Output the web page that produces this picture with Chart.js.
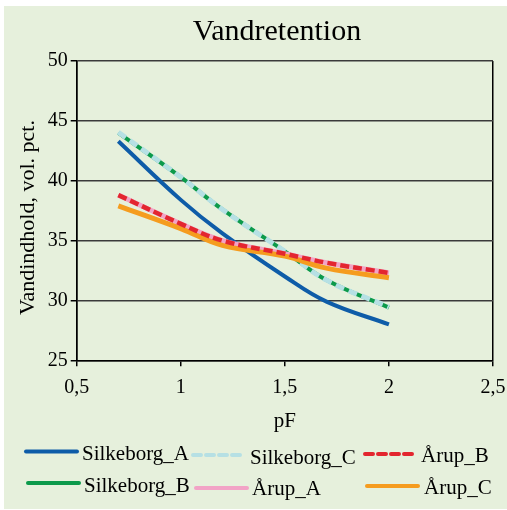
<!DOCTYPE html>
<html>
<head>
<meta charset="utf-8">
<script src="https://cdn.jsdelivr.net/npm/chart.js@4.4.0/dist/chart.umd.min.js"></script>
<style>
  html, body { margin: 0; padding: 0; background: #ffffff; }
  #frame { position: absolute; left: 4px; top: 6px; width: 503px; height: 503px; background: #e6f0dc; }
  #wrap { position: absolute; left: 0; top: 0; width: 507px; height: 510px; }
</style>
</head>
<body>
<div id="frame"></div>
<div id="wrap"><canvas id="c" width="507" height="510"></canvas></div>
<script>
// pF values and water content (vol. pct.) per soil sample
const pF = [0.7, 1.0, 1.2, 1.5, 1.7, 2.0];
const silkeborgA = [43.3, 38.4, 35.6, 32.0, 29.9, 28.0];
const silkeborgB = [44.0, 40.3, 37.6, 34.1, 31.7, 29.4];
const silkeborgC = [44.05, 40.3, 37.6, 34.1, 31.7, 29.45];
const aarupA = [38.8, 36.4, 35.0, 33.9, 33.15, 32.3];
const aarupB = [38.8, 36.4, 35.0, 33.9, 33.15, 32.3];
const aarupC = [37.9, 36.0, 34.6, 33.7, 32.7, 31.9];

const seriesNames = ['Silkeborg_A', 'Silkeborg_B', 'Silkeborg_C', 'Årup_A', 'Årup_B', 'Årup_C'];
const seriesValues = [silkeborgA, silkeborgB, silkeborgC, aarupA, aarupB, aarupC];

const xTicks = [0.5, 1, 1.5, 2, 2.5];
const yTicks = [25, 30, 35, 40, 45, 50];

const chartTitle = 'Vandretention';
const xTitle = 'pF';
const yTitle = 'Vandindhold, vol. pct.';

// line styles: colour, width, dash, stacking (lower order = drawn on top)
const styles = [
  { color: '#0e5ca8', width: 4,   dash: [],     order: 6 },
  { color: '#0c9a4b', width: 4,   dash: [],     order: 5 },
  { color: '#b6e0e4', width: 5,   dash: [9, 5], order: 4 },
  { color: '#f2a3c6', width: 5,   dash: [],     order: 3 },
  { color: '#e3262f', width: 4.5, dash: [9, 4], order: 1 },
  { color: '#f59c1f', width: 5,   dash: [],     order: 2 }
];

const serif = "'Liberation Serif', 'Times New Roman', serif";

const datasets = seriesNames.map((name, i) => ({
  label: name,
  data: pF.map((x, j) => ({ x: x, y: seriesValues[i][j] })),
  borderColor: styles[i].color,
  backgroundColor: styles[i].color,
  borderWidth: styles[i].width,
  borderDash: styles[i].dash,
  borderCapStyle: 'butt',
  order: styles[i].order,
  pointRadius: 0,
  pointHoverRadius: 0,
  tension: 0.4,
  fill: false
}));

// legend laid out in two rows, three columns
const legendSlots = [
  { ds: 0, x0: 26,  x1: 77,  ly: 451.5, tx: 82,  ty: 460 },
  { ds: 2, x0: 193, x1: 241, ly: 455,   tx: 250, ty: 464 },
  { ds: 4, x0: 365, x1: 412, ly: 454,   tx: 421, ty: 462 },
  { ds: 1, x0: 28,  x1: 79,  ly: 483,   tx: 84,  ty: 492 },
  { ds: 3, x0: 196, x1: 247, ly: 488,   tx: 252, ty: 495 },
  { ds: 5, x0: 367, x1: 418, ly: 486,   tx: 424, ty: 494 }
];

// chart title, y-axis title and the legend
const textPlugin = {
  id: 'textAndLegend',
  afterDraw(chart) {
    const ctx = chart.ctx;
    ctx.save();
    ctx.fillStyle = '#000';
    ctx.textBaseline = 'alphabetic';

    ctx.font = '30px ' + serif;
    ctx.textAlign = 'center';
    ctx.fillText(chartTitle, 277, 40);

    ctx.save();
    ctx.font = '22px ' + serif;
    ctx.translate(34, 217.5);
    ctx.rotate(-Math.PI / 2);
    ctx.fillText(yTitle, 0, 0);
    ctx.restore();

    legendSlots.forEach(s => {
      const ds = chart.data.datasets[s.ds];
      ctx.beginPath();
      ctx.strokeStyle = ds.borderColor;
      ctx.lineWidth = 4;
      ctx.lineCap = 'round';
      ctx.setLineDash(ds.borderDash.length ? [8, 5] : []);
      ctx.moveTo(s.x0, s.ly);
      ctx.lineTo(s.x1, s.ly);
      ctx.stroke();
      ctx.setLineDash([]);
      ctx.fillStyle = '#000';
      ctx.font = '21px ' + serif;
      ctx.textAlign = 'left';
      ctx.fillText(ds.label, s.tx, s.ty);
    });
    ctx.restore();
  }
};

const fmt = v => String(v).replace('.', ',');

new Chart(document.getElementById('c'), {
  type: 'line',
  data: { datasets: datasets },
  plugins: [textPlugin],
  options: {
    responsive: false,
    animation: false,
    events: [],
    layout: { padding: { left: 11, right: 14, top: 61, bottom: 71.5 } },
    plugins: {
      legend: { display: false },
      tooltip: { enabled: false },
      title: { display: false }
    },
    scales: {
      x: {
        type: 'linear',
        min: xTicks[0],
        max: xTicks[xTicks.length - 1],
        afterBuildTicks: s => { s.ticks = xTicks.map(v => ({ value: v })); },
        afterFit: s => { s.paddingLeft = 13; s.paddingRight = 13; },
        ticks: {
          color: '#000',
          font: { family: serif, size: 20 },
          padding: 9.5,
          maxRotation: 0,
          callback: v => fmt(v)
        },
        grid: {
          color: c => (c.tick && (c.tick.value === xTicks[0] || c.tick.value === xTicks[xTicks.length - 1])) ? '#000' : 'rgba(0,0,0,0)',
          tickColor: '#000',
          lineWidth: 1.5,
          tickLength: 6,
          drawOnChartArea: true
        },
        border: { display: true, color: '#000', width: 1.5 },
        title: {
          display: true,
          text: xTitle,
          color: '#000',
          font: { family: serif, size: 21 },
          padding: { top: 0, bottom: 4 }
        }
      },
      y: {
        min: yTicks[0],
        max: yTicks[yTicks.length - 1],
        afterBuildTicks: s => { s.ticks = yTicks.map(v => ({ value: v })); },
        afterFit: s => { s.width = 65.7; },
        ticks: {
          color: '#000',
          font: { family: serif, size: 20 },
          padding: 3
        },
        grid: {
          color: '#3a3a3a',
          tickColor: '#000',
          lineWidth: 1.5,
          tickLength: 6
        },
        border: { display: true, color: '#000', width: 1.5 }
      }
    }
  }
});
</script>
</body>
</html>
